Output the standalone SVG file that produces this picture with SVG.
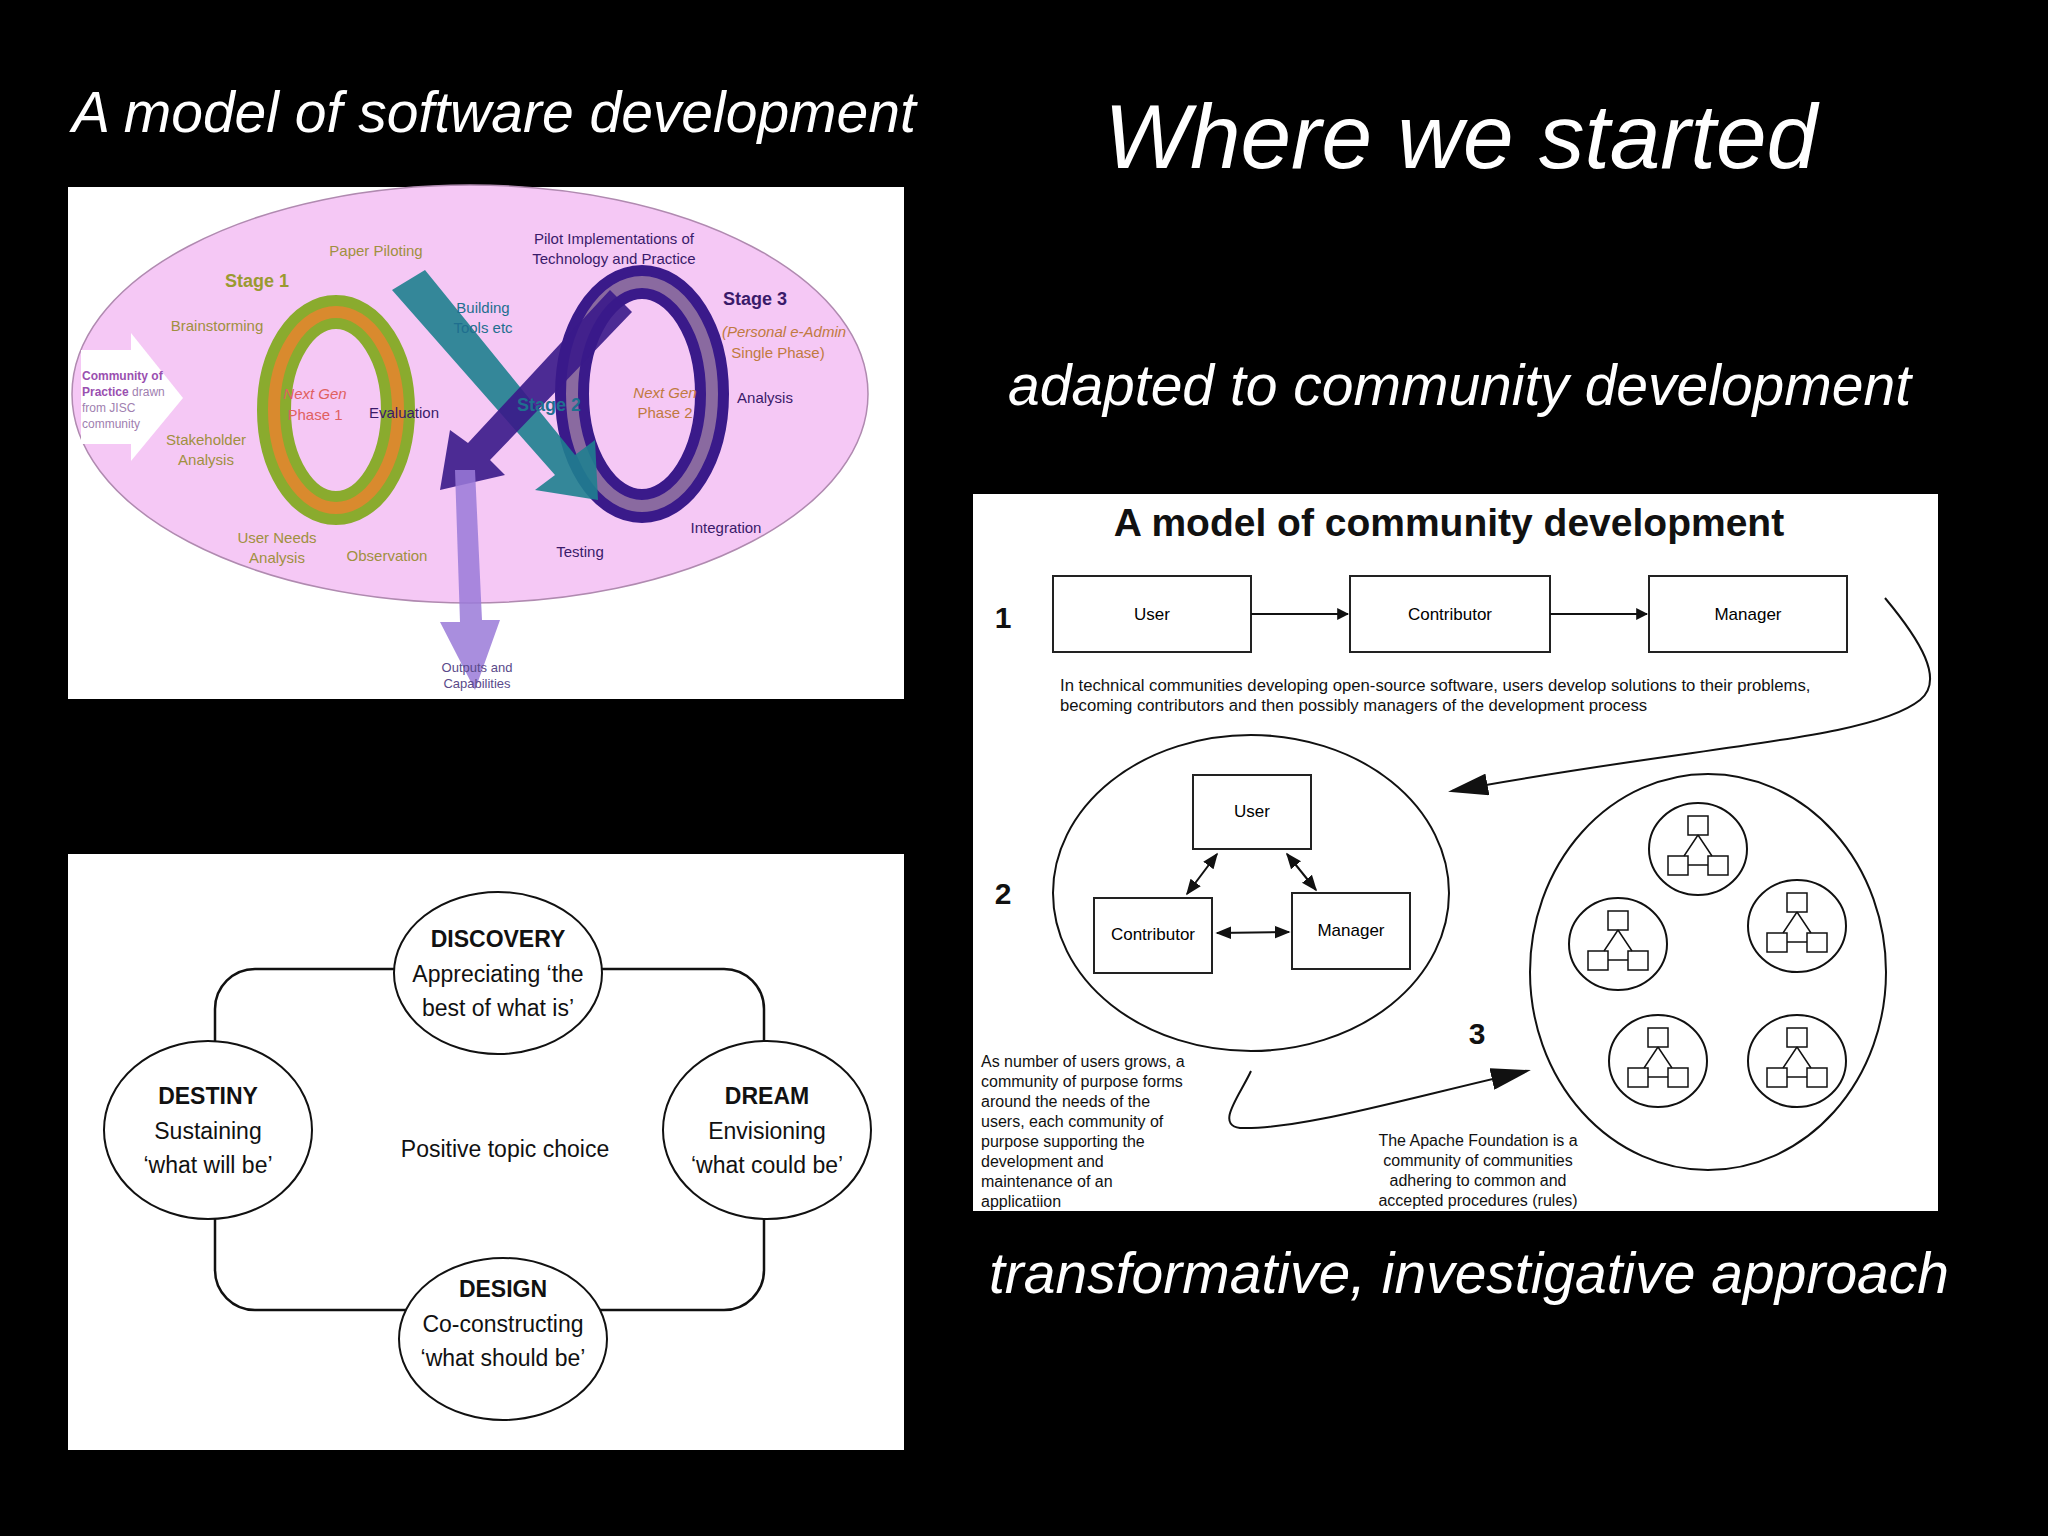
<svg xmlns="http://www.w3.org/2000/svg" width="2048" height="1536" viewBox="0 0 2048 1536">
<defs>
<style>
.h{font-family:"Liberation Sans",Arial,sans-serif;font-style:italic;fill:#fff}
.s{font-family:"Liberation Sans",Arial,sans-serif}
.bx{fill:#fff;stroke:#222;stroke-width:2}
.ln{stroke:#111;stroke-width:2;fill:none}
.e{fill:#fff;stroke:#111;stroke-width:2}
.n{font-size:23px;text-anchor:middle;fill:#111}
</style>
<marker id="a" viewBox="0 0 10 10" refX="9" refY="5" markerWidth="8" markerHeight="8" orient="auto-start-reverse"><path d="M0,1L10,5L0,9z" fill="#111"/></marker>
<marker id="big" viewBox="0 0 10 10" refX="9" refY="5" markerWidth="12" markerHeight="12" orient="auto" markerUnits="userSpaceOnUse"><path d="M0,0L10,5L0,10z" fill="#111"/></marker>
<marker id="bigA" viewBox="0 0 10 10" refX="9" refY="5" markerWidth="40" markerHeight="22" orient="auto" markerUnits="userSpaceOnUse" preserveAspectRatio="none"><path d="M0,0L10,5L0,10z" fill="#111"/></marker>
<g id="mini"><rect x="-10" y="-33" width="20" height="19" fill="#fff" stroke="#111" stroke-width="1.5"/><rect x="-30" y="7" width="20" height="19" fill="#fff" stroke="#111" stroke-width="1.5"/><rect x="10" y="7" width="20" height="19" fill="#fff" stroke="#111" stroke-width="1.5"/><path d="M0,-14L-14,7M0,-14L14,7M-10,16H10" stroke="#111" stroke-width="1.5" fill="none"/></g>
</defs>
<rect width="2048" height="1536" fill="#000"/>
<g id="titles">
<text class="h" x="72" y="132" font-size="57">A model of software development</text>
<text class="h" x="1104" y="168" font-size="91">Where we started</text>
<text class="h" x="1008" y="405" font-size="57">adapted to community development</text>
<text class="h" x="989" y="1293" font-size="57">transformative, investigative approach</text>
</g>
<g id="panel-software">
<rect x="68" y="187" width="836" height="512" fill="#fff"/>
<ellipse cx="470" cy="394" rx="398" ry="209" fill="#f5c8f5" stroke="#b08ab0" stroke-width="1.5"/>
<path d="M81,350H131V333L183,398L131,461V444H81z" fill="#fff"/>
<ellipse cx="336" cy="410" rx="62" ry="98" fill="none" stroke="#8aab2e" stroke-width="34"/>
<ellipse cx="336" cy="410" rx="62" ry="98" fill="none" stroke="#d98a2e" stroke-width="12"/>
<ellipse cx="642" cy="394" rx="70" ry="112" fill="none" stroke="#3a1a8a" stroke-width="34"/>
<ellipse cx="642" cy="394" rx="70" ry="112" fill="none" stroke="#8a6aa0" stroke-width="12"/>
<path d="M392,290L425,270L575,455L595,440L598,500L535,490L555,475z" fill="#1f7f8f" opacity="0.9"/>
<path d="M610,290L632,312L490,460L505,475L440,490L450,430L468,443z" fill="#3a1a8a" opacity="0.9"/>
<path d="M455,470L475,470L482,620L500,620L475,690L440,622L460,622z" fill="#9a7ad8" opacity="0.85"/>
<g class="s" font-size="15" text-anchor="middle">
<text x="376" y="256" fill="#a09040">Paper Piloting</text>
<text x="257" y="287" fill="#9a9a30" font-size="18" font-weight="bold">Stage 1</text>
<text x="217" y="331" fill="#a09040">Brainstorming</text>
<text x="206" y="445" fill="#a09040">Stakeholder</text><text x="206" y="465" fill="#a09040">Analysis</text>
<text x="315" y="399" fill="#e06060" font-style="italic">Next Gen</text><text x="315" y="420" fill="#e06060">Phase 1</text>
<text x="404" y="418" fill="#3a1a6a">Evaluation</text>
<text x="483" y="313" fill="#1f6f8f">Building</text><text x="483" y="333" fill="#1f6f8f">Tools etc</text>
<text x="614" y="244" fill="#3a1a6a">Pilot Implementations of</text><text x="614" y="264" fill="#3a1a6a">Technology and Practice</text>
<text x="755" y="305" fill="#3a1a6a" font-size="18" font-weight="bold">Stage 3</text>
<text x="784" y="337" fill="#c07a40" font-style="italic">(Personal e-Admin</text><text x="778" y="358" fill="#c07a40">Single Phase)</text>
<text x="549" y="411" fill="#1f6f8f" font-size="18" font-weight="bold">Stage 2</text>
<text x="665" y="398" fill="#c07a40" font-style="italic">Next Gen</text><text x="665" y="418" fill="#c07a40">Phase 2</text>
<text x="765" y="403" fill="#3a1a6a">Analysis</text>
<text x="726" y="533" fill="#3a1a6a">Integration</text>
<text x="580" y="557" fill="#3a1a6a">Testing</text>
<text x="387" y="561" fill="#a09040">Observation</text>
<text x="277" y="543" fill="#a09040">User Needs</text><text x="277" y="563" fill="#a09040">Analysis</text>
<text x="477" y="672" fill="#5a4a8a" font-size="13">Outputs and</text><text x="477" y="688" fill="#5a4a8a" font-size="13">Capabilities</text>
</g>
<g class="s" font-size="12" fill="#9a50b0" font-weight="bold">
<text x="82" y="380">Community of</text><text x="82" y="396">Practice <tspan fill="#a080b0" font-weight="normal">drawn</tspan></text><text x="82" y="412" fill="#a080b0" font-weight="normal">from JISC</text><text x="82" y="428" fill="#a080b0" font-weight="normal">community</text>
</g>
</g>
<g id="panel-appreciative">
<rect x="68" y="854" width="836" height="596" fill="#fff"/>
<rect x="215" y="969" width="549" height="341" rx="40" fill="none" stroke="#111" stroke-width="2.5"/>
<g id="discovery"><ellipse class="e" cx="498" cy="973" rx="104" ry="81"/><text class="s n" x="498" y="947" font-weight="bold">DISCOVERY</text><text class="s n" x="498" y="982">Appreciating ‘the</text><text class="s n" x="498" y="1016">best of what is’</text></g>
<g id="destiny"><ellipse class="e" cx="208" cy="1130" rx="104" ry="89"/><text class="s n" x="208" y="1104" font-weight="bold">DESTINY</text><text class="s n" x="208" y="1139">Sustaining</text><text class="s n" x="208" y="1173">‘what will be’</text></g>
<g id="dream"><ellipse class="e" cx="767" cy="1130" rx="104" ry="89"/><text class="s n" x="767" y="1104" font-weight="bold">DREAM</text><text class="s n" x="767" y="1139">Envisioning</text><text class="s n" x="767" y="1173">‘what could be’</text></g>
<g id="design"><ellipse class="e" cx="503" cy="1339" rx="104" ry="81"/><text class="s n" x="503" y="1297" font-weight="bold">DESIGN</text><text class="s n" x="503" y="1332">Co-constructing</text><text class="s n" x="503" y="1366">‘what should be’</text></g>
<text class="s n" x="505" y="1157">Positive topic choice</text>
</g>
<g id="panel-community">
<rect x="973" y="494" width="965" height="717" fill="#fff"/>
<text class="s" x="1449" y="536" font-size="39" font-weight="bold" text-anchor="middle" fill="#111">A model of community development</text>
<g class="s" font-size="30" font-weight="bold" fill="#111" text-anchor="middle"><text x="1003" y="628">1</text><text x="1003" y="904">2</text><text x="1477" y="1044">3</text></g>
<g id="user1"><rect class="bx" x="1053" y="576" width="198" height="76"/><text class="s" x="1152" y="620" font-size="17" text-anchor="middle">User</text></g>
<g id="contrib1"><rect class="bx" x="1350" y="576" width="200" height="76"/><text class="s" x="1450" y="620" font-size="17" text-anchor="middle">Contributor</text></g>
<g id="manager1"><rect class="bx" x="1649" y="576" width="198" height="76"/><text class="s" x="1748" y="620" font-size="17" text-anchor="middle">Manager</text></g>
<g class="s" font-size="16.7" fill="#111"><text x="1060" y="691">In technical communities developing open-source software, users develop solutions to their problems,</text><text x="1060" y="711">becoming contributors and then possibly managers of the development process</text></g>
<ellipse class="e" cx="1251" cy="893" rx="198" ry="158"/>
<g id="user2"><rect class="bx" x="1193" y="775" width="118" height="74"/><text class="s" x="1252" y="817" font-size="17" text-anchor="middle">User</text></g>
<g id="contrib2"><rect class="bx" x="1094" y="898" width="118" height="75"/><text class="s" x="1153" y="940" font-size="17" text-anchor="middle">Contributor</text></g>
<g id="manager2"><rect class="bx" x="1292" y="893" width="118" height="76"/><text class="s" x="1351" y="936" font-size="17" text-anchor="middle">Manager</text></g>
<ellipse class="e" cx="1708" cy="972" rx="178" ry="198"/>
<g id="c1"><ellipse class="e" cx="1698" cy="849" rx="49" ry="46"/><use href="#mini" x="1698" y="849"/></g>
<g id="c2"><ellipse class="e" cx="1797" cy="926" rx="49" ry="46"/><use href="#mini" x="1797" y="926"/></g>
<g id="c3"><ellipse class="e" cx="1618" cy="944" rx="49" ry="46"/><use href="#mini" x="1618" y="944"/></g>
<g id="c4"><ellipse class="e" cx="1658" cy="1061" rx="49" ry="46"/><use href="#mini" x="1658" y="1061"/></g>
<g id="c5"><ellipse class="e" cx="1797" cy="1061" rx="49" ry="46"/><use href="#mini" x="1797" y="1061"/></g>
<g class="s" font-size="16" fill="#111"><text x="981" y="1067">As number of users grows, a</text><text x="981" y="1087">community of purpose forms</text><text x="981" y="1107">around the needs of the</text><text x="981" y="1127">users, each community of</text><text x="981" y="1147">purpose supporting the</text><text x="981" y="1167">development and</text><text x="981" y="1187">maintenance of an</text><text x="981" y="1207">applicatiion</text></g>
<g class="s" font-size="16" fill="#111" text-anchor="middle"><text x="1478" y="1146">The Apache Foundation is a</text><text x="1478" y="1166">community of communities</text><text x="1478" y="1186">adhering to common and</text><text x="1478" y="1206">accepted procedures (rules)</text></g>
</g>
<g id="connectors">
<path class="ln" d="M1251,614H1348" marker-end="url(#big)"/>
<path class="ln" d="M1550,614H1647" marker-end="url(#big)"/>
<path class="ln" d="M1217,854L1187,894" marker-start="url(#a)" marker-end="url(#a)"/>
<path class="ln" d="M1287,854L1316,890" marker-start="url(#a)" marker-end="url(#a)"/>
<path class="ln" d="M1217,933L1289,932" marker-start="url(#a)" marker-end="url(#a)"/>
<path class="ln" d="M1885,598C1920,640 1945,680 1920,700C1870,740 1700,745 1452,791" stroke-width="2.5" marker-end="url(#bigA)"/>
<path class="ln" d="M1251,1071C1240,1095 1215,1125 1240,1128C1300,1130 1400,1100 1527,1071" stroke-width="2.5" marker-end="url(#bigA)"/>
</g>
</svg>
